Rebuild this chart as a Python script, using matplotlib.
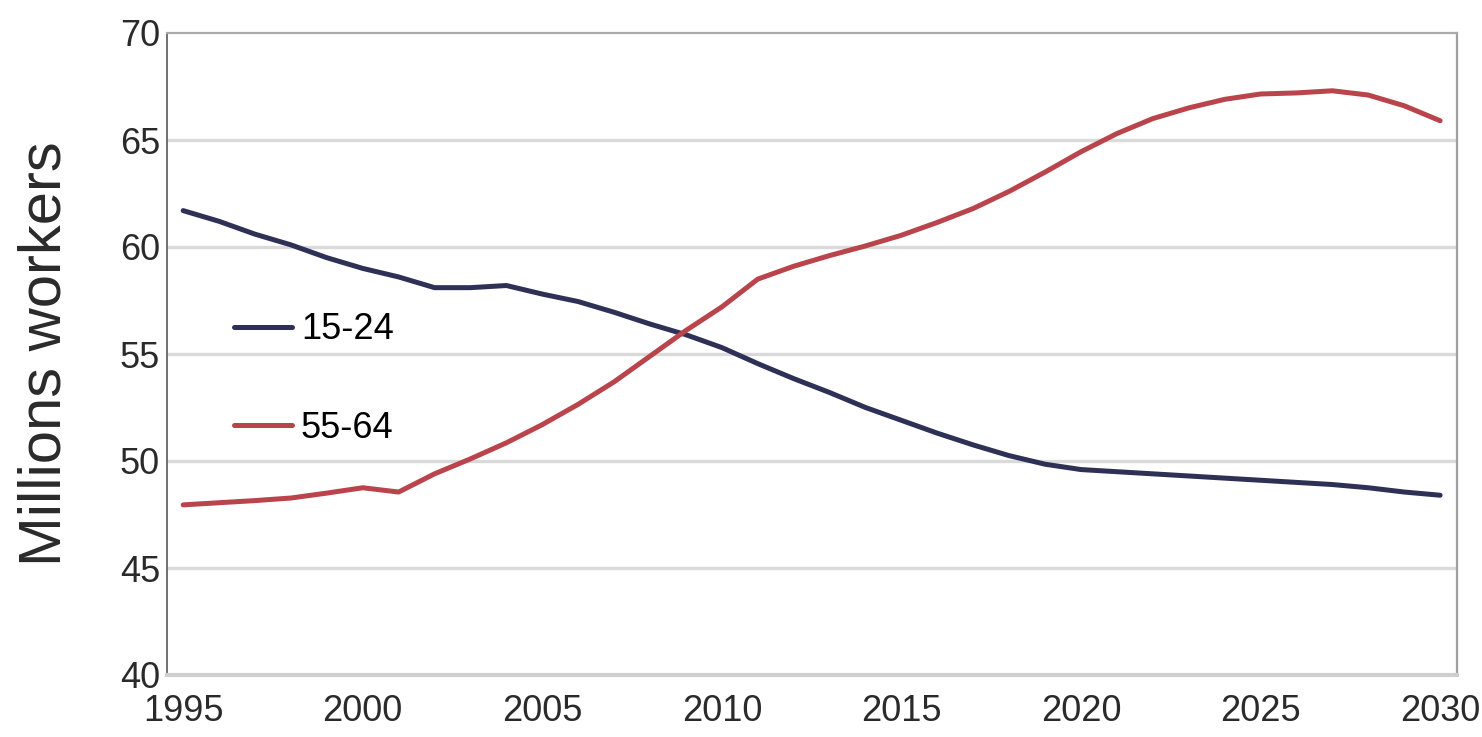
import matplotlib.pyplot as plt

# Labor force by age group, millions of workers
years = list(range(1995, 2031))
age_15_24 = [61.7, 61.2, 60.6, 60.1, 59.5, 59.0, 58.6, 58.1, 58.1, 58.2,
             57.8, 57.45, 56.95, 56.4, 55.9, 55.3, 54.55, 53.85, 53.2, 52.5,
             51.9, 51.3, 50.75, 50.25, 49.85, 49.6, 49.5, 49.4, 49.3, 49.2,
             49.1, 49.0, 48.9, 48.75, 48.55, 48.4]
age_55_64 = [47.95, 48.05, 48.15, 48.27, 48.5, 48.75, 48.55, 49.4, 50.1, 50.85,
             51.7, 52.65, 53.7, 54.9, 56.1, 57.2, 58.5, 59.1, 59.6, 60.05,
             60.55, 61.15, 61.8, 62.6, 63.5, 64.45, 65.3, 66.0, 66.5, 66.9,
             67.15, 67.2, 67.3, 67.1, 66.6, 65.9]
x_ticks = [1995, 2000, 2005, 2010, 2015, 2020, 2025, 2030]
y_ticks = [40, 45, 50, 55, 60, 65, 70]

plt.rcParams['font.family'] = ['Liberation Sans', 'DejaVu Sans']

fig = plt.figure(figsize=(14.82, 7.37), dpi=100)
ax = fig.add_axes([167 / 1482, 1 - 675 / 737, 1290 / 1482, 642 / 737])

# grid lines
for v in y_ticks[1:-1]:
    ax.axhline(v, color='#dadada', lw=2.4, zorder=1)

ax.plot(years, age_15_24, color='#2e3056', lw=3.6, label='15-24', zorder=3,
        solid_capstyle='round')
ax.plot(years, age_55_64, color='#b9444c', lw=3.6, label='55-64', zorder=3,
        solid_capstyle='round')

ax.set_xlim(1994.55, 2030.47)
ax.set_ylim(40, 70)
ax.set_xticks(x_ticks)
ax.set_yticks(y_ticks)
ax.tick_params(length=0, labelsize=26, colors='#2a2a2a')
ax.tick_params(axis='x', pad=14)
ax.tick_params(axis='y', pad=5)

ax.spines['left'].set_color('#666666')
ax.spines['left'].set_linewidth(1.3)
ax.spines['top'].set_color('#aaaaaa')
ax.spines['top'].set_linewidth(1.6)
ax.spines['right'].set_color('#a0a0a0')
ax.spines['right'].set_linewidth(1.6)
ax.spines['bottom'].set_color('#cfcfcf')
ax.spines['bottom'].set_linewidth(3)

ax.set_ylabel('Millions workers', fontsize=43, color='#2a2a2a', labelpad=34)

ax.legend(loc='center left', bbox_to_anchor=(0.052, 0.461), frameon=False,
          fontsize=26, handlelength=1.6, handletextpad=0.25, labelspacing=1.75,
          borderpad=0, borderaxespad=0)

fig.savefig('out.png', dpi=100)
